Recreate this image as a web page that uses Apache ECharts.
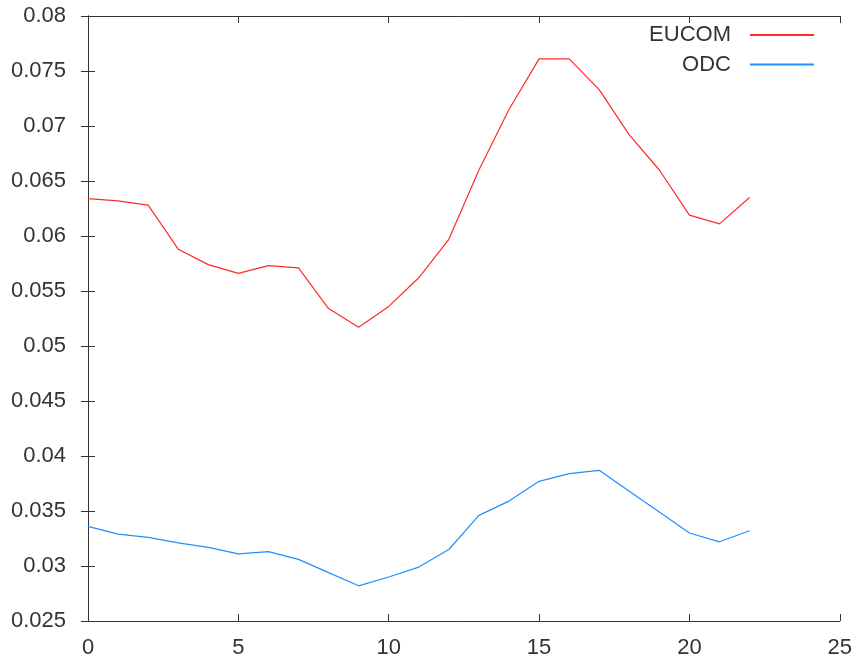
<!DOCTYPE html>
<html>
<head>
<meta charset="utf-8">
<script src="https://cdn.jsdelivr.net/npm/echarts@6/dist/echarts.min.js"></script>
<style>html,body{margin:0;padding:0;background:#fff}#c{width:855px;height:659px}</style>
</head>
<body>
<div id="c"></div>
<script>
var xValues = [0,1,2,3,4,5,6,7,8,9,10,11,12,13,14,15,16,17,18,19,20,21,22];
var eucom = [0.0634,0.0632,0.0628,0.0588,0.0574,0.0566,0.0573,0.0571,0.0534,0.0517,0.0536,0.0562,0.0597,0.0660,0.0715,0.0761,0.0761,0.0733,0.0692,0.0660,0.0619,0.0611,0.0635];
var odc = [0.0336,0.0329,0.0326,0.0321,0.0317,0.0311,0.0313,0.0306,0.0294,0.0282,0.0290,0.0299,0.0315,0.0346,0.0359,0.0377,0.0384,0.0387,0.0368,0.0349,0.0330,0.0322,0.0332];
var seriesNames = ['EUCOM','ODC'];
var xTicks = {min:0, max:25, interval:5};
var yTicks = {min:0.025, max:0.08, interval:0.005};

function pairs(xs, ys){ return xs.map(function(x,i){ return [x, ys[i]]; }); }
var FONT = '"Liberation Sans", Arial, sans-serif';
var chart = echarts.init(document.getElementById('c'), null, {renderer:'canvas'});
var axisLine = {show:true, lineStyle:{color:'#333', width:1}};
var tick = {show:true, inside:true, length:7, lineStyle:{color:'#333', width:1}};
chart.setOption({
  backgroundColor:'#fff',
  animation:false,
  grid:{left:88, right:15, top:16, bottom:37, containLabel:false},
  legend:{
    orient:'vertical', right:41, top:24, align:'right', padding:0,
    itemWidth:64, itemHeight:2, itemGap:7.5,
    icon:'rect',
    textStyle:{fontFamily:FONT, fontSize:22, color:'#333', lineHeight:20, padding:[0,14,0,0]},
    data:seriesNames
  },
  xAxis:[
    {type:'value', position:'bottom', min:xTicks.min, max:xTicks.max, interval:xTicks.interval,
     axisLine:axisLine, axisTick:tick, splitLine:{show:false},
     axisLabel:{fontFamily:FONT, fontSize:22, color:'#333', margin:16}},
    {type:'value', position:'top', min:xTicks.min, max:xTicks.max, interval:xTicks.interval,
     axisLine:axisLine, axisTick:tick, splitLine:{show:false}, axisLabel:{show:false}}
  ],
  yAxis:[
    {type:'value', position:'left', min:yTicks.min, max:yTicks.max, interval:yTicks.interval,
     axisLine:axisLine, axisTick:tick, splitLine:{show:false},
     axisLabel:{fontFamily:FONT, fontSize:22, color:'#333', margin:22,
       formatter:function(v){ return String(parseFloat(v.toFixed(4))); }}},
    {type:'value', position:'right', min:yTicks.min, max:yTicks.max, interval:yTicks.interval,
     axisLine:axisLine, axisTick:tick, splitLine:{show:false}, axisLabel:{show:false}}
  ],
  series:[
    {name:seriesNames[0], type:'line', data:pairs(xValues, eucom), symbol:'none',
     lineStyle:{color:'#ff2a2a', width:1.2}, itemStyle:{color:'#ff2a2a'}},
    {name:seriesNames[1], type:'line', data:pairs(xValues, odc), symbol:'none',
     lineStyle:{color:'#1e90ff', width:1.2}, itemStyle:{color:'#1e90ff'}}
  ]
});
</script>
</body>
</html>
